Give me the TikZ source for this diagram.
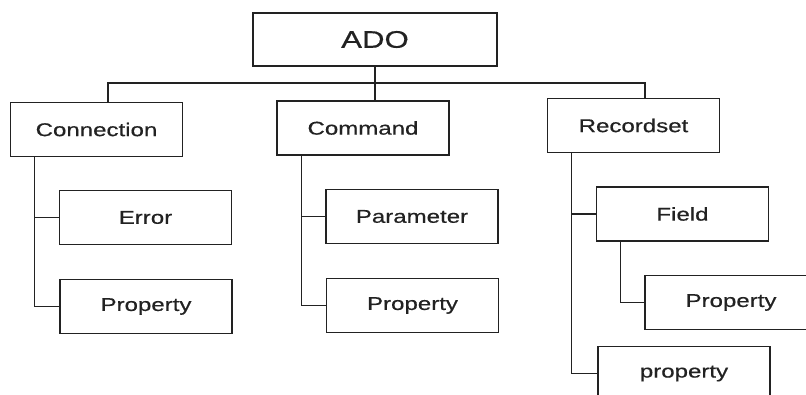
\documentclass[tikz,border=0pt]{standalone}
\usepackage{fontspec}
\setmainfont[FakeStretch=1.3,FakeBold=0.5]{Liberation Sans}
\definecolor{ink}{HTML}{222222}
\begin{document}
\begin{tikzpicture}[x=1pt,y=-1pt,
  box/.style={draw=ink, line width=1.3pt, minimum width=172pt, minimum height=54pt,
    inner sep=0pt, text=ink, font=\fontsize{18.5}{20}\selectfont},
  topbox/.style={box, minimum width=244pt, minimum height=53pt, font=\fontsize{24}{26}\selectfont},
  link/.style={draw=ink, line width=1.2pt}]
\useasboundingbox (0,0) rectangle (806,394);
\fill[white] (0,0) rectangle (806,394);
\clip (0,0) rectangle (806,394);
\node[topbox] (ADO) at (375,39.5) {ADO};
\node[box] (Connection) at (96.5,129.5) {Connection};
\node[box] (Command) at (363,128) {Command};
\node[box] (Recordset) at (633.5,125.5) {Recordset};
\node[box] (Error) at (145.5,217.5) {Error};
\node[box] (PropA) at (146,306.5) {Property};
\node[box] (Parameter) at (412,216.5) {Parameter};
\node[box] (PropB) at (412.5,305.5) {Property};
\node[box] (Field) at (682.5,214) {Field};
\node[box] (PropC) at (731,302.5) {Property};
\node[box] (PropD) at (684,373.5) {property};
\coordinate (bus) at (375,83);
\coordinate (sConn) at ([xshift=25pt]Connection.south west);
\coordinate (sCmd) at ([xshift=25pt]Command.south west);
\coordinate (sRec) at ([xshift=25pt]Recordset.south west);
\coordinate (sFld) at ([xshift=25pt]Field.south west);
% top level
\draw[link] (ADO.south) -- (ADO.south |- Command.north);
\draw[link] ([xshift=11.5pt]Connection.north) |- (bus) -| ([xshift=11.5pt]Recordset.north);
% Connection children
\draw[link] (sConn) |- (PropA.west);
\draw[link] (Error.west) -- (Error.west -| sConn);
% Command children
\draw[link] (sCmd) |- (PropB.west);
\draw[link] (Parameter.west) -- (Parameter.west -| sCmd);
% Recordset children
\draw[link] (sRec) |- (PropD.west);
\draw[link] (Field.west) -- (Field.west -| sRec);
% Field child
\draw[link] (sFld) |- (PropC.west);
\end{tikzpicture}
\end{document}
